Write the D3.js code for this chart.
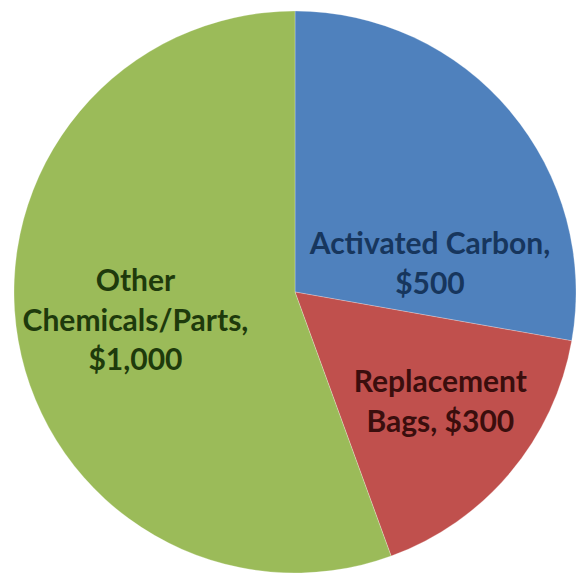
<!DOCTYPE html>
<html>
<head>
<meta charset="utf-8">
<script src="https://cdn.jsdelivr.net/npm/d3@7"></script>
<style>
html,body{margin:0;padding:0;background:#fff;}
svg{display:block;}
</style>
</head>
<body>
<svg id="chart" width="576" height="577"></svg>
<script>
const categories = ["Activated Carbon", "Replacement Bags", "Other Chemicals/Parts"];
const values = [500, 300, 1000];
const valueLabels = ["$500", "$300", "$1,000"];
const labelLines = [
  ["Activated Carbon,", "$500"],
  ["Replacement", "Bags, $300"],
  ["Other", "Chemicals/Parts,", "$1,000"]
];
const colors = ["#4F81BD", "#C0504D", "#9BBB59"];
const textColors = ["#17365D", "#3A0E0D", "#1E3A0C"];

// label placement (angle in degrees from 12 o'clock, distance from centre)
const labelAngles = [78, 127, 260];
const labelRadii = [138, 182, 162];

const svg = d3.select("#chart");
const cx = 295, cy = 292, R = 281;
const g = svg.append("g").attr("transform", `translate(${cx},${cy})`);

const pie = d3.pie().sort(null).value(d => d)(values);
const arc = d3.arc().innerRadius(0).outerRadius(R);

g.selectAll("path").data(pie).enter().append("path")
  .attr("d", arc)
  .attr("fill", (d, i) => colors[i])
  .attr("stroke", "rgba(255,255,255,0.25)")
  .attr("stroke-width", 1);

const lineH = 39.5;
const fontSize = 30;
pie.forEach((d, i) => {
  const a = labelAngles[i] * Math.PI / 180;
  const x = Math.sin(a) * labelRadii[i];
  const y = -Math.cos(a) * labelRadii[i];
  const lines = labelLines[i];
  const t = g.append("text")
    .attr("text-anchor", "middle")
    .attr("font-family", "Lato, 'Open Sans', sans-serif")
    .attr("font-weight", "bold")
    .attr("font-size", fontSize)
    .attr("fill", textColors[i]);
  lines.forEach((ln, j) => {
    t.append("tspan")
      .attr("x", x)
      .attr("y", y + (j - (lines.length - 1) / 2) * lineH + fontSize * 0.35)
      .text(ln);
  });
});
</script>
</body>
</html>
